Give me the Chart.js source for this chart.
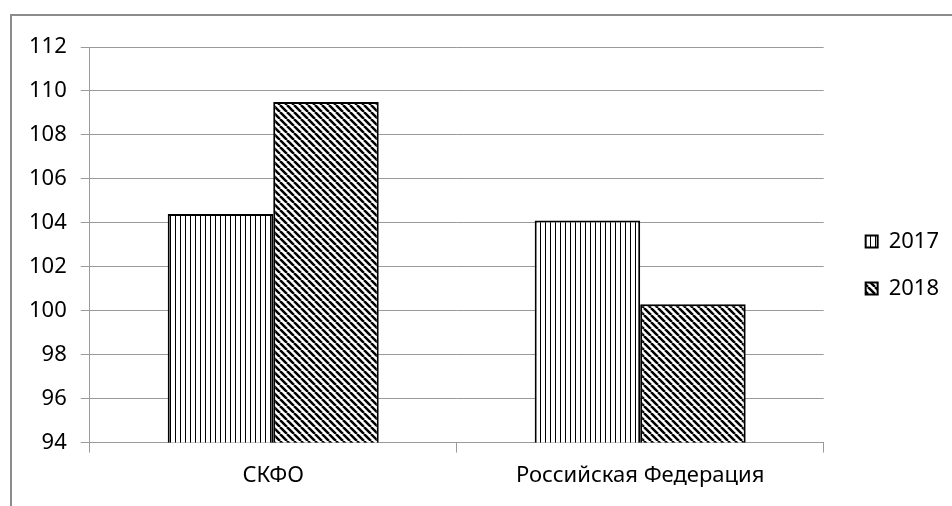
<!DOCTYPE html>
<html>
<head>
<meta charset="utf-8">
<script src="https://cdn.jsdelivr.net/npm/chart.js@4/dist/chart.umd.min.js"></script>
<style>
  html, body { margin: 0; padding: 0; background: #fff; }
  #wrap { width: 952px; height: 506px; position: relative; }
</style>
</head>
<body>
<div id="wrap"><canvas id="chart"></canvas></div>
<script>
// chart data
const categories = ['СКФО', 'Российская Федерация'];
const seriesNames = ['2017', '2018'];
const values2017 = [104.4, 104.1];
const values2018 = [109.5, 100.3];
const yMin = 94;
const yMax = 112;
const yStep = 2;

const FONT = '"Noto Sans", sans-serif';

// vertical hatch for 2017
function verticalHatch() {
    const s = 5;
    const c = document.createElement('canvas');
    c.width = s; c.height = s;
    const g = c.getContext('2d');
    g.fillStyle = '#fff';
    g.fillRect(0, 0, s, s);
    g.fillStyle = '#000';
    g.fillRect(0, 0, 1, s);
    return g.createPattern(c, 'repeat');
}

// diagonal hatch (top-left to bottom-right) for 2018
function diagonalHatch() {
    const s = 7;
    const c = document.createElement('canvas');
    c.width = s; c.height = s;
    const g = c.getContext('2d');
    g.fillStyle = '#fff';
    g.fillRect(0, 0, s, s);
    g.strokeStyle = '#000';
    g.lineWidth = 2.5;
    g.beginPath();
    for (const x0 of [-s, 0, s]) {
        g.moveTo(x0, 0);
        g.lineTo(x0 + s, s);
    }
    g.stroke();
    return g.createPattern(c, 'repeat');
}

// grey frame round the chart, legend nudged right
const framePlugin = {
    id: 'frame',
    afterLayout(chart) {
        const lg = chart.legend;
        if (lg) {
            lg.left += 17;
            lg.right += 17;
            lg.top -= 8;
            lg.bottom -= 8;
        }
    },
    beforeDraw(chart) {
        const ctx = chart.ctx;
        ctx.save();
        ctx.fillStyle = '#fff';
        ctx.fillRect(0, 0, chart.width, chart.height);
        ctx.strokeStyle = '#8c8c8c';
        ctx.lineWidth = 2;
        ctx.strokeRect(11, 15, 1000, 1000);
        ctx.restore();
    }
};

const ctx = document.getElementById('chart').getContext('2d');
const chart = new Chart(ctx, {
    type: 'bar',
    data: {
        labels: categories,
        datasets: [{
            label: seriesNames[0],
            data: values2017,
            backgroundColor: verticalHatch(),
            borderColor: '#000',
            borderWidth: 2
        }, {
            label: seriesNames[1],
            data: values2018,
            backgroundColor: diagonalHatch(),
            borderColor: '#000',
            borderWidth: 2
        }]
    },
    options: {
        responsive: true,
        maintainAspectRatio: false,
        animation: false,
        layout: {
            padding: { left: 15, right: 20, top: 47, bottom: 7 }
        },
        datasets: {
            bar: { barPercentage: 1, categoryPercentage: 0.575 }
        },
        plugins: {
            legend: {
                position: 'right',
                align: 'center',
                labels: {
                    font: { family: FONT, size: 22 },
                    color: '#000',
                    boxWidth: 12,
                    boxHeight: 12,
                    padding: 25
                }
            },
            tooltip: { enabled: false }
        },
        scales: {
            x: {
                grid: {
                    drawOnChartArea: false,
                    drawTicks: true,
                    tickLength: 10,
                    color: '#9a9a9a',
                    offset: true
                },
                border: { color: '#9a9a9a', width: 1 },
                ticks: {
                    font: { family: FONT, size: 22 },
                    color: '#000',
                    padding: 10
                }
            },
            y: {
                min: yMin,
                max: yMax,
                grid: {
                    color: '#9a9a9a',
                    tickLength: 9
                },
                border: { color: '#9a9a9a', width: 1 },
                ticks: {
                    stepSize: yStep,
                    font: { family: FONT, size: 22 },
                    color: '#000',
                    padding: 14
                }
            }
        }
    },
    plugins: [framePlugin]
});
</script>
</body>
</html>
